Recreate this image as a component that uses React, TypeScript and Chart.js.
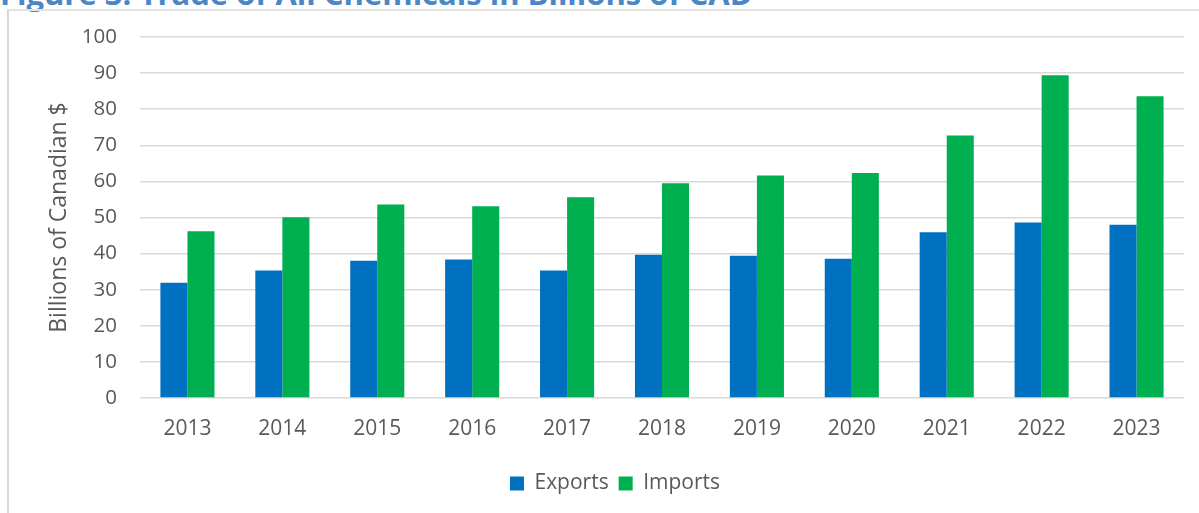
import React, { useEffect, useRef } from "react";
import { Chart, registerables } from "chart.js";

Chart.register(...registerables);

const categories = ["2013", "2014", "2015", "2016", "2017", "2018", "2019", "2020", "2021", "2022", "2023"];
const exportsValues = [31.9, 35.3, 38.0, 38.4, 35.3, 39.7, 39.4, 38.6, 45.9, 48.6, 48.0];
const importsValues = [46.2, 50.1, 53.6, 53.1, 55.6, 59.5, 61.6, 62.3, 72.7, 89.4, 83.6];
const seriesNames = ["Exports", "Imports"];
const yTitle = "Billions of Canadian $";
const figureTitle = "Figure 3: Trade of All Chemicals in Billions of CAD";

const FONT = "'Open Sans', 'DejaVu Sans', sans-serif";
const TEXT = "#595959";

export default function App() {
  const ref = useRef<HTMLCanvasElement | null>(null);

  useEffect(() => {
    if (!ref.current) return;
    const chart = new Chart(ref.current, {
      type: "bar",
      data: {
        labels: categories,
        datasets: [
          {
            label: seriesNames[0],
            data: exportsValues,
            backgroundColor: "#0070C0",
            borderWidth: 0,
            categoryPercentage: 0.57,
            barPercentage: 1,
          },
          {
            label: seriesNames[1],
            data: importsValues,
            backgroundColor: "#00B050",
            borderWidth: 0,
            categoryPercentage: 0.57,
            barPercentage: 1,
          },
        ],
      },
      options: {
        animation: false,
        responsive: false,
        devicePixelRatio: 1,
        layout: { padding: { top: 37, right: 15, left: 46, bottom: 9 } },
        plugins: {
          tooltip: { enabled: false },
          title: { display: false },
          legend: {
            position: "bottom",
            labels: {
              boxWidth: 14,
              boxHeight: 14,
              padding: 10,
              color: TEXT,
              font: { family: FONT, size: 21 },
            },
          },
        },
        scales: {
          x: {
            grid: { display: false, drawTicks: false },
            border: { display: false },
            ticks: { color: TEXT, font: { family: FONT, size: 21 }, padding: 18 },
            afterFit: (s: any) => {
              s.height = 65;
            },
          },
          y: {
            min: 0,
            max: 100,
            ticks: { stepSize: 10, color: TEXT, font: { family: FONT, size: 20.5 }, padding: 23 },
            grid: { color: "#d9d9d9", lineWidth: 1.5, drawTicks: false },
            border: { display: false },
            title: {
              display: true,
              text: yTitle,
              color: TEXT,
              font: { family: FONT, size: 23 },
              padding: { top: 0, bottom: 0 },
            },
            afterFit: (s: any) => {
              s.width = 94;
            },
          },
        },
      },
    });
    return () => chart.destroy();
  }, []);

  return (
    <div style={{ position: "absolute", left: 0, top: 0, width: 1199, height: 513, overflow: "hidden", background: "#fff" }}>
      <div
        style={{
          position: "absolute",
          left: 0,
          top: -22,
          lineHeight: "31px",
          fontFamily: FONT,
          fontWeight: 700,
          fontSize: 31,
          color: "#4A86C8",
          whiteSpace: "nowrap",
        }}
      >
        {figureTitle}
      </div>
      <div
        style={{
          position: "absolute",
          left: 7,
          top: 9,
          width: 1200,
          height: 510,
          borderLeft: "2px solid #d9d9d9",
          borderTop: "2px solid #e3e3e3",
        }}
      />
      <canvas ref={ref} width={1199} height={513} style={{ position: "absolute", left: 0, top: 0, width: 1199, height: 513 }} />
    </div>
  );
}
